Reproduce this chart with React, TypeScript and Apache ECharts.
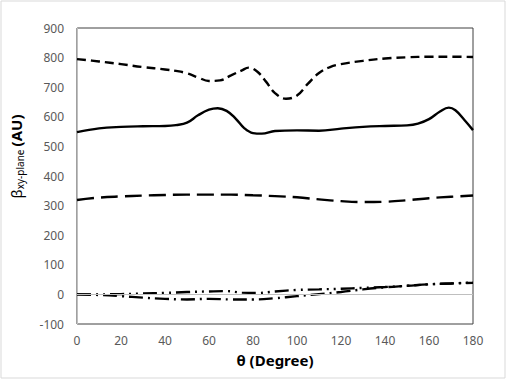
import React, { useEffect, useRef } from "react";
import * as echarts from "echarts";

// Series A (short dash, top)
const thetaA = [0, 10, 20, 30, 40, 45, 50, 55, 60, 65, 70, 75, 78, 82, 86, 90, 95, 100, 105, 110, 115, 120, 130, 140, 150, 160, 170, 180];
const valuesA = [795, 787, 778, 768, 760, 755, 747, 733, 721, 723, 740, 757, 766, 752, 718, 680, 661, 672, 712, 748, 768, 778, 789, 797, 801, 803, 803, 802];

// Series B (solid)
const thetaB = [0, 10, 20, 30, 40, 45, 50, 55, 60, 64, 68, 72, 76, 80, 84, 90, 100, 110, 120, 130, 140, 150, 155, 160, 165, 169, 172, 176, 180];
const valuesB = [548, 561, 566, 568, 569, 572, 580, 605, 624, 629, 620, 595, 562, 545, 543, 552, 554, 553, 560, 566, 569, 571, 577, 592, 618, 631, 622, 590, 555];

// Series C (long dash)
const thetaC = [0, 10, 20, 30, 40, 50, 60, 70, 80, 90, 100, 110, 120, 130, 140, 150, 160, 170, 180];
const valuesC = [319, 327, 331, 334, 336, 337, 337, 337, 335, 332, 328, 321, 315, 312, 313, 318, 325, 330, 334];

// Series D (long dash dot dot)
const thetaD = [0, 10, 20, 30, 40, 50, 60, 68, 75, 82, 90, 100, 110, 120, 130, 140, 150, 160, 170, 180];
const valuesD = [0, 0, 1, 3, 5, 8, 10, 11, 6, 5, 10, 15, 17, 19, 22, 25, 29, 34, 37, 40];

// Series E (long dash dot)
const thetaE = [0, 10, 20, 30, 40, 50, 60, 70, 80, 90, 100, 110, 120, 130, 140, 150, 160, 170, 180];
const valuesE = [0, -2, -6, -11, -15, -17, -15, -17, -17, -13, -6, 1, 8, 17, 24, 29, 34, 37, 39];

const xTicks = { min: 0, max: 180, interval: 20 };
const yTicks = { min: -100, max: 900, interval: 100 };

const pairs = (xs: number[], ys: number[]) => xs.map((x, i) => [x, ys[i]]);

export default function App() {
  const ref = useRef<HTMLDivElement>(null);
  useEffect(() => {
    document.body.style.margin = "0";
    if (!ref.current) return;
    const chart = echarts.init(ref.current, undefined, { renderer: "svg" });
    const font = "Noto Sans";
    const lineBase = (name: string, data: number[][], dash: any) => ({
      name,
      type: "line",
      data,
      smooth: 0.4,
      showSymbol: false,
      symbol: "none",
      lineStyle: { color: "#000", width: 2.4, type: dash },
    });
    chart.setOption({
      animation: false,
      backgroundColor: "#fff",
      textStyle: { fontFamily: font },
      grid: {
        left: 77,
        right: 35,
        top: 28,
        bottom: 56,
        show: true,
        borderColor: "#404040",
        borderWidth: 1,
      },
      graphic: [
        {
          type: "rect",
          shape: { x: 1, y: 1, width: 504, height: 377 },
          style: { fill: "none", stroke: "#D9D9D9", lineWidth: 1 },
          silent: true,
        },
      ],
      xAxis: {
        type: "value",
        ...xTicks,
        axisLine: { show: false },
        axisTick: { show: false },
        splitLine: { show: false },
        axisLabel: { color: "#595959", fontSize: 12, margin: 10, fontFamily: font },
        name: "θ (Degree)",
        nameLocation: "middle",
        nameGap: 28,
        nameTextStyle: { color: "#000", fontSize: 15, fontWeight: "bold", fontFamily: font },
      },
      yAxis: {
        type: "value",
        ...yTicks,
        axisLine: { show: true, onZero: false, lineStyle: { color: "#BFBFBF", width: 1 } },
        axisTick: { show: false },
        splitLine: { show: false },
        axisLabel: { color: "#595959", fontSize: 12, margin: 13, fontFamily: font },
        name: "{b|β}{s|xy-plane} {a|(AU)}",
        nameLocation: "middle",
        nameRotate: 90,
        nameGap: 52,
        nameTextStyle: {
          color: "#000",
          padding: [0, 0, 0, 39],
          rich: {
            b: { fontSize: 15, fontFamily: font, color: "#000" },
            s: { fontSize: 10, fontFamily: font, color: "#000", verticalAlign: "bottom", padding: [8, 0, 0, 0] },
            a: { fontSize: 15, fontWeight: "bold", fontFamily: font, color: "#000" },
          },
        },
      },
      series: [
        {
          ...lineBase("E", pairs(thetaE, valuesE), [14, 5, 2, 5]),
          markLine: {
            silent: true,
            symbol: "none",
            label: { show: false },
            lineStyle: { color: "#BFBFBF", width: 1, type: "solid" },
            data: [{ yAxis: 0 }],
          },
        },
        lineBase("D", pairs(thetaD, valuesD), [14, 5, 2, 5, 2, 5]),
        lineBase("C", pairs(thetaC, valuesC), [17, 7]),
        lineBase("B", pairs(thetaB, valuesB), "solid"),
        lineBase("A", pairs(thetaA, valuesA), [9, 5]),
      ],
    });
    return () => chart.dispose();
  }, []);
  return <div ref={ref} style={{ position: "absolute", left: 0, top: 0, width: 508, height: 380 }} />;
}
